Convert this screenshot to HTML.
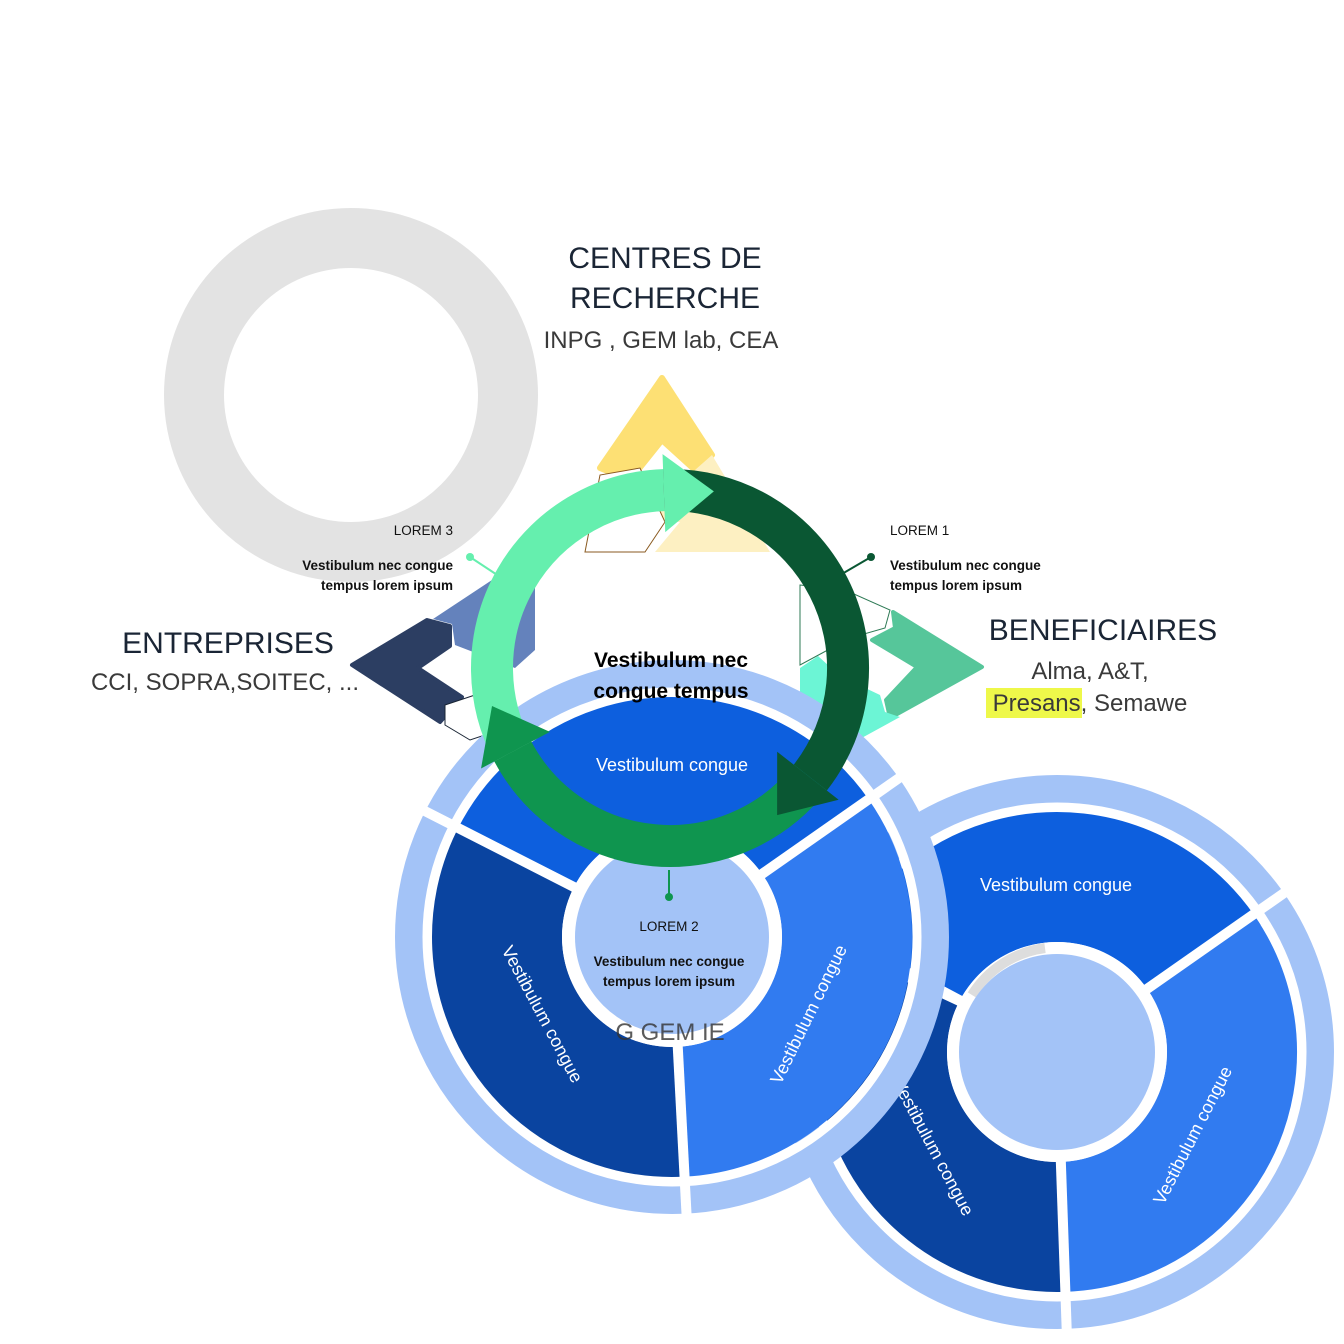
<!DOCTYPE html>
<html><head><meta charset="utf-8"><style>
html,body{margin:0;padding:0;background:#fff}
svg{display:block}
text{font-family:"Liberation Sans",sans-serif}
</style></head><body>
<svg width="1344" height="1344" viewBox="0 0 1344 1344" xmlns="http://www.w3.org/2000/svg">
<circle cx="351" cy="395" r="157" fill="none" stroke="#E3E3E3" stroke-width="60"/>

<polygon points="662,378 712,455 695,470 662,440 630,480 600,468" fill="#FDE074" stroke="#FDE074" stroke-width="6" stroke-linejoin="round"/>
<polygon points="712,455 770,552 655,552 680,522 650,522 695,470" fill="#FDF0C2"/>
<polygon points="585,552 600,475 640,468 665,522 645,552" fill="#fff" stroke="#8a5a20" stroke-width="1"/>
<polygon points="352,665 427,620 450,626 450,646 418,668 462,697 440,722" fill="#2C3E62" stroke="#2C3E62" stroke-width="4" stroke-linejoin="round"/>
<polygon points="433,619 495,578 535,580 535,650 515,668 455,645 452,624" fill="#6482BC"/>
<polygon points="445,705 475,695 500,730 470,740 445,725" fill="#fff" stroke="#1a2535" stroke-width="1"/>
<polygon points="893,612 982,667 890,718 886,700 917,667 872,640 895,628" fill="#56C69A" stroke="#56C69A" stroke-width="4" stroke-linejoin="round"/>
<polygon points="800,668 818,656 840,676 880,695 885,712 900,717 858,740 822,742 800,705" fill="#6CF5D5"/>
<polygon points="800,585 845,590 890,610 885,628 850,638 800,665" fill="#fff" stroke="#2e7a55" stroke-width="1"/>

<g>
<circle cx="1057" cy="1052" r="262" fill="none" stroke="#A3C3F7" stroke-width="30"/>
<circle cx="1057" cy="1052" r="175" fill="none" stroke="#0D5FDE" stroke-width="130" stroke-dasharray="366.5 2000" transform="rotate(-152 1057 1052)"/>
<circle cx="1057" cy="1052" r="175" fill="none" stroke="#317BF0" stroke-width="130" stroke-dasharray="375.7 2000" transform="rotate(-35 1057 1052)"/>
<circle cx="1057" cy="1052" r="175" fill="none" stroke="#0A44A0" stroke-width="130" stroke-dasharray="357.3 2000" transform="rotate(88 1057 1052)"/>
<circle cx="1057" cy="1052" r="245" fill="none" stroke="#fff" stroke-width="9"/>
<g stroke="#fff" stroke-width="10">
<line x1="1057" y1="1052" x2="1347" y2="1052" transform="rotate(-152 1057 1052)"/>
<line x1="1057" y1="1052" x2="1347" y2="1052" transform="rotate(-35 1057 1052)"/>
<line x1="1057" y1="1052" x2="1347" y2="1052" transform="rotate(88 1057 1052)"/>
</g>
<circle cx="1057" cy="1052" r="110" fill="#fff"/>
<path d="M972,995 A102,102 0 0 1 1045,948" fill="none" stroke="#DDDDDD" stroke-width="10"/>
<circle cx="1057" cy="1052" r="98" fill="#A3C3F7"/>
<text x="1056" y="891" font-size="18" fill="#fff" text-anchor="middle">Vestibulum congue</text>
<text transform="translate(928,1150) rotate(62)" font-size="18" fill="#fff" text-anchor="middle">Vestibulum congue</text>
<text transform="translate(1198,1138) rotate(-63)" font-size="18" fill="#fff" text-anchor="middle">Vestibulum congue</text>
</g>

<g>
<circle cx="672" cy="937" r="262" fill="none" stroke="#A3C3F7" stroke-width="30"/>
<circle cx="672" cy="937" r="175" fill="none" stroke="#0D5FDE" stroke-width="130" stroke-dasharray="360.5 2000" transform="rotate(-153 672 937)"/>
<circle cx="672" cy="937" r="175" fill="none" stroke="#317BF0" stroke-width="130" stroke-dasharray="372.6 2000" transform="rotate(-35 672 937)"/>
<circle cx="672" cy="937" r="175" fill="none" stroke="#0A44A0" stroke-width="130" stroke-dasharray="369.6 2000" transform="rotate(87 672 937)"/>
<circle cx="672" cy="937" r="245" fill="none" stroke="#fff" stroke-width="9"/>
<g stroke="#fff" stroke-width="10">
<line x1="672" y1="937" x2="962" y2="937" transform="rotate(-153 672 937)"/>
<line x1="672" y1="937" x2="962" y2="937" transform="rotate(-35 672 937)"/>
<line x1="672" y1="937" x2="962" y2="937" transform="rotate(87 672 937)"/>
</g>
<circle cx="672" cy="937" r="110" fill="#fff"/>
<circle cx="672" cy="937" r="97" fill="#A3C3F7"/>
<text x="672" y="771" font-size="18" fill="#fff" text-anchor="middle">Vestibulum congue</text>
<text transform="translate(537,1017) rotate(62)" font-size="18" fill="#fff" text-anchor="middle">Vestibulum congue</text>
<text transform="translate(814,1017) rotate(-64)" font-size="18" fill="#fff" text-anchor="middle">Vestibulum congue</text>
<text x="670" y="1040" font-size="24" fill="#333" text-anchor="middle" opacity="0.8">G  GEM  IE</text>
</g>

<line x1="470" y1="557" x2="520" y2="590" stroke="#65EFAE" stroke-width="2"/>
<circle cx="470" cy="557" r="4" fill="#65EFAE"/>
<line x1="871" y1="557" x2="835" y2="578" stroke="#0A5733" stroke-width="2"/>
<circle cx="871" cy="557" r="4" fill="#0A5733"/>
<line x1="669" y1="870" x2="669" y2="897" stroke="#0F954F" stroke-width="2"/>
<circle cx="669" cy="897" r="4" fill="#0F954F"/>

<g fill="none" stroke-width="42">
<path d="M512.8,751.5 A178,178 0 0 1 663.8,490.1" stroke="#65EFAE"/>
<path d="M663.8,490.1 A178,178 0 0 1 810.3,777.6" stroke="#0A5733"/>
<path d="M810.3,777.6 A178,178 0 0 1 512.8,751.5" stroke="#0F954F"/>
</g>
<polygon points="806,668 884,668 845,718" fill="#0F954F" transform="rotate(152 670 668)"/>
<polygon points="806,668 884,668 845,718" fill="#65EFAE" transform="rotate(268 670 668)"/>
<polygon points="806,668 884,668 845,718" fill="#0A5733" transform="rotate(38 670 668)"/>

<g fill="#1a2535" font-size="30" text-anchor="middle">
<text x="665" y="268">CENTRES DE</text>
<text x="665" y="308">RECHERCHE</text>
<text x="228" y="653">ENTREPRISES</text>
<text x="1103" y="640">BENEFICIAIRES</text>
</g>
<rect x="986" y="688" width="96" height="30" fill="#EEF84A"/>
<g fill="#3a3a3a" font-size="24" text-anchor="middle">
<text x="661" y="348">INPG , GEM lab, CEA</text>
<text x="225" y="690">CCI, SOPRA,SOITEC, ...</text>
<text x="1090" y="679">Alma, A&amp;T,</text>
<text x="1090" y="711">Presans, Semawe</text>
</g>
<g font-size="13.5" fill="#111">
<text x="453" y="535" text-anchor="end">LOREM 3</text>
<text x="453" y="570" text-anchor="end" font-weight="bold">Vestibulum nec congue</text>
<text x="453" y="590" text-anchor="end" font-weight="bold">tempus lorem ipsum</text>
<text x="890" y="535">LOREM 1</text>
<text x="890" y="570" font-weight="bold">Vestibulum nec congue</text>
<text x="890" y="590" font-weight="bold">tempus lorem ipsum</text>
<text x="669" y="931" text-anchor="middle">LOREM 2</text>
<text x="669" y="966" text-anchor="middle" font-weight="bold">Vestibulum nec congue</text>
<text x="669" y="986" text-anchor="middle" font-weight="bold">tempus lorem ipsum</text>
</g>
<text x="671" y="667" font-size="21" font-weight="bold" fill="#000" text-anchor="middle">Vestibulum nec</text>
<text x="671" y="698" font-size="21" font-weight="bold" fill="#000" text-anchor="middle">congue tempus</text>
</svg>
</body></html>
